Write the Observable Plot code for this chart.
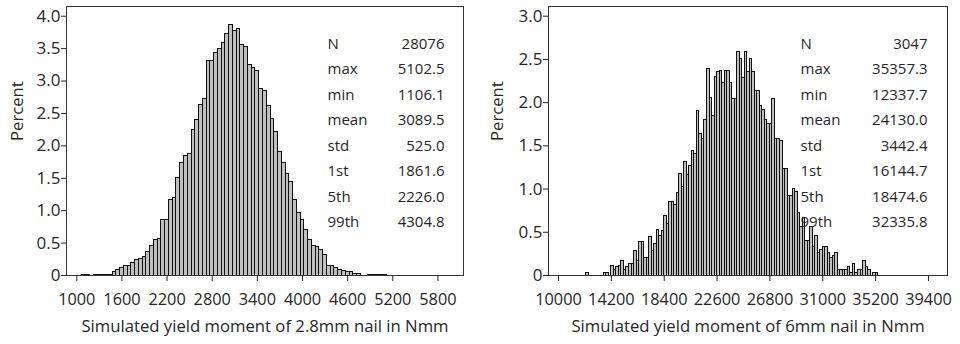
<!DOCTYPE html>
<html><head><meta charset="utf-8">
<script src="https://cdn.jsdelivr.net/npm/d3@7"></script>
<script src="https://cdn.jsdelivr.net/npm/@observablehq/plot@0.6"></script>
<style>
html,body{margin:0;padding:0;background:#fff;}
#wrap{display:flex;width:960px;height:344px;overflow:hidden;}
</style></head><body><div id="wrap"></div>
<script>
// ---------- Left panel: 2.8mm nail (bin width 50, bin midpoints) ----------
const leftMid = [1100,1150,1200,1250,1300,1350,1400,1450,1500,1550,1600,1650,1700,1750,1800,1850,1900,1950,
  2000,2050,2100,2150,2200,2250,2300,2350,2400,2450,2500,2550,2600,2650,2700,2750,2800,2850,2900,2950,
  3000,3050,3100,3150,3200,3250,3300,3350,3400,3450,3500,3550,3600,3650,3700,3750,3800,3850,3900,3950,
  4000,4050,4100,4150,4200,4250,4300,4350,4400,4450,4500,4550,4600,4650,4700,4750,4800,4850,4900,4950,
  5000,5050,5100];
const leftPct = [0.01,0.01,0,0.01,0.01,0.01,0.01,0.01,0.05,0.09,0.12,0.14,0.14,0.20,0.24,0.26,0.28,0.37,
  0.46,0.54,0.57,0.85,0.85,1.16,1.19,1.51,1.73,1.84,1.88,2.25,2.40,2.63,2.72,3.31,3.31,3.43,3.50,3.59,
  3.72,3.87,3.77,3.81,3.56,3.52,3.24,3.20,3.16,2.87,2.85,2.62,2.42,2.21,1.90,1.73,1.57,1.44,1.16,0.96,
  0.85,0.70,0.54,0.45,0.44,0.40,0.31,0.15,0.15,0.12,0.09,0.07,0.06,0.05,0.03,0.02,0,0,0.01,0.01,
  0.01,0.01,0.01];
const leftBinWidth = 50;
const leftXTicks = [1000,1600,2200,2800,3400,4000,4600,5200,5800];
const leftYTicks = [0,0.5,1.0,1.5,2.0,2.5,3.0,3.5,4.0];
const leftXLabel = "Simulated yield moment of 2.8mm nail in Nmm";
const leftStatValues = ["28076","5102.5","1106.1","3089.5","525.0","1861.6","2226.0","4304.8"];

// ---------- Right panel: 6mm nail (bin width 200, bin starts) ----------
const rightStart = [12200,12400,12600,12800,13000,13200,13400,13600,13800,14000,14200,14400,14600,14800,
  15000,15200,15400,15600,15800,16000,16200,16400,16600,16800,17000,17200,17400,17600,17800,18000,
  18200,18400,18600,18800,19000,19200,19400,19600,19800,20000,20200,20400,20600,20800,21000,21200,
  21400,21600,21800,22000,22200,22400,22600,22800,23000,23200,23400,23600,23800,24000,24200,24400,
  24600,24800,25000,25200,25400,25600,25800,26000,26200,26400,26600,26800,27000,27200,27400,27600,
  27800,28000,28200,28400,28600,28800,29000,29200,29400,29600,29800,30000,30200,30400,30600,30800,
  31000,31200,31400,31600,31800,32000,32200,32400,32600,32800,33000,33200,33400,33600,33800,34000,
  34200,34400,34600,34800,35000,35200];
const rightPct = [0.033,0,0,0,0,0,0,0.033,0.033,0,0.115,0.066,0.098,0.115,
  0.164,0.066,0.098,0.131,0.131,0.28,0.164,0.39,0.39,0.20,0.20,0.44,0.28,0.36,0.53,0.46,
  0.51,0.69,0.60,0.85,0.85,0.82,0.95,1.18,1.02,1.31,1.16,1.27,1.44,1.41,1.90,1.64,
  1.58,1.80,2.39,2.05,1.85,2.30,2.35,2.37,2.23,2.37,2.37,2.23,2.04,2.04,2.58,2.50,
  2.28,2.58,2.35,2.50,2.35,2.14,2.14,1.96,1.92,1.80,1.75,1.75,2.04,1.58,1.58,1.56,
  1.23,1.23,0.92,0.92,1.00,0.97,0.72,0.56,0.66,0.40,0.40,0.56,0.33,0.46,0.26,0.30,
  0.33,0.33,0.26,0.20,0.23,0.26,0.066,0.066,0.066,0.066,0.098,0.033,0.131,0.033,0.066,0.066,
  0.164,0.098,0.066,0,0.033,0.033];
const rightBinWidth = 200;
const rightXTicks = [10000,14200,18400,22600,26800,31000,35200,39400];
const rightYTicks = [0,0.5,1.0,1.5,2.0,2.5,3.0];
const rightXLabel = "Simulated yield moment of 6mm nail in Nmm";
const rightStatValues = ["3047","35357.3","12337.7","24130.0","3442.4","16144.7","18474.6","32335.8"];

const statNames = ["N","max","min","mean","std","1st","5th","99th"];
const yLabel = "Percent";

function panel(o) {
  return Plot.plot({
    width: 480, height: 344,
    marginLeft: o.mL, marginRight: o.mR, marginTop: 6, marginBottom: 69,
    style: {fontFamily: "'Open Sans', sans-serif", fontSize: "16px", color: "#262626", background: "#fff"},
    x: {domain: o.xDomain},
    y: {domain: o.yDomain},
    marks: [
      Plot.rectY(o.bars, {x1: "x1", x2: "x2", y: "y", fill: "#c0c0c0", stroke: "#111", strokeWidth: 1,
        shapeRendering: "crispEdges"}),
      Plot.frame({stroke: "#333"}),
      Plot.axisX({ticks: o.xTicks, tickSize: 6, tickPadding: 12, label: null, tickFormat: d => String(d), fontSize: 16.3}),
      Plot.axisY({ticks: o.yTicks, tickSize: 5, tickPadding: 1, label: null, fontSize: 17,
        tickFormat: d => d === 0 ? "0" : d.toFixed(1)}),
      Plot.text([o.xLabel], {text: d => d, frameAnchor: "bottom", dy: 56, fontSize: 16.7}),
      Plot.text([yLabel], {text: d => d, frameAnchor: "left", rotate: -90, dx: o.yLabDx, fontSize: 16.7}),
      Plot.text([statNames.join("\n")], {text: d => d, frameAnchor: "top-right", textAnchor: "start",
        lineAnchor: "top", dx: o.nameDx, dy: 24, lineHeight: 1.7, fontSize: 15}),
      Plot.text([o.statValues.join("\n")], {text: d => d, frameAnchor: "top-right", textAnchor: "end",
        lineAnchor: "top", dx: o.valDx, dy: 24, lineHeight: 1.7, fontSize: 15})
    ]
  });
}

const leftBars = leftMid.map((m, i) => ({x1: m - leftBinWidth / 2, x2: m + leftBinWidth / 2, y: leftPct[i]})).filter(d => d.y > 0);
const rightBars = rightStart.map((s, i) => ({x1: s, x2: s + rightBinWidth, y: rightPct[i]})).filter(d => d.y > 0);

const wrap = document.getElementById("wrap");
wrap.appendChild(panel({
  bars: leftBars, mL: 66, mR: 17, xDomain: [863, 6140], yDomain: [0, 4.15],
  xTicks: leftXTicks, yTicks: leftYTicks, xLabel: leftXLabel, statValues: leftStatValues,
  yLabDx: -49, nameDx: -136, valDx: -19
}));
wrap.appendChild(panel({
  bars: rightBars, mL: 68, mR: 13, xDomain: [9204, 40912], yDomain: [0, 3.112],
  xTicks: rightXTicks, yTicks: rightYTicks, xLabel: rightXLabel, statValues: rightStatValues,
  yLabDx: -51, nameDx: -147, valDx: -20
}));
</script></body></html>
